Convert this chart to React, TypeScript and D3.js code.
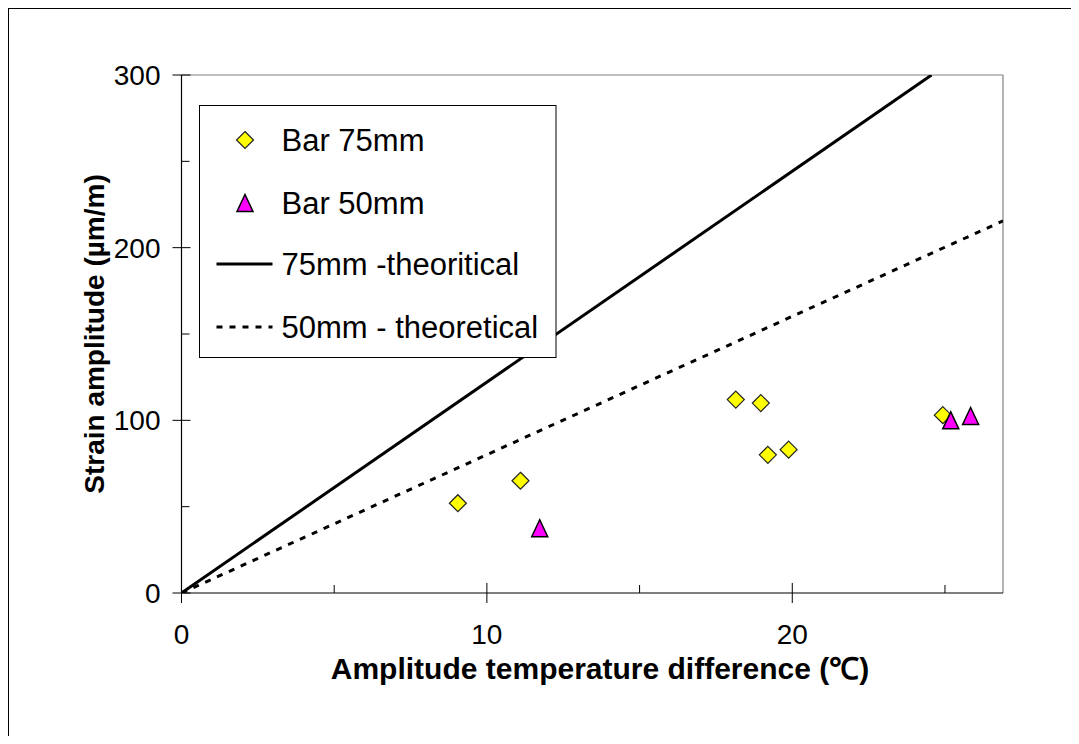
import React from 'react';
import * as d3 from 'd3';

// Bar 75mm measured points [temp diff, strain]
const bar75X = [9.05, 11.1, 18.15, 18.97, 19.2, 19.88, 24.93];
const bar75Y = [52, 65, 112, 110, 80, 83, 103];

// Bar 50mm measured points
const bar50X = [11.73, 25.19, 25.84];
const bar50Y = [37.5, 100, 102.5];

// theoretical lines (end points)
const theo75X = [0, 24.56];
const theo75Y = [0, 300];
const theo50X = [0, 26.9];
const theo50Y = [0, 215.5];

const xMajorTicks = [0, 10, 20];
const xMinorTicks = [5, 15, 25];
const yMajorTicks = [0, 100, 200, 300];
const yMinorTicks = [50, 150, 250];

const legendLabels = ['Bar 75mm', 'Bar 50mm', '75mm -theoritical', '50mm - theoretical'];

const W = 1063;
const H = 728;
const FONT = 'Liberation Sans, Arial, sans-serif';

const App = () => {
  // page coords minus 8px body margin
  const x = d3.scaleLinear().domain([0, 26.9]).range([173.5, 995]);
  const y = d3.scaleLinear().domain([0, 300]).range([585, 67]);

  const line = d3.line<[number, number]>()
    .x(d => x(d[0]))
    .y(d => y(d[1]));

  const line75 = line(theo75X.map((v, i) => [v, theo75Y[i]]));
  const line50 = line(theo50X.map((v, i) => [v, theo50Y[i]]));

  const diamond = (cx: number, cy: number) => {
    const r = 8.5;
    return `M${cx},${cy - r}L${cx + r},${cy}L${cx},${cy + r}L${cx - r},${cy}Z`;
  };
  const triangle = (cx: number, cy: number) =>
    `M${cx},${cy - 8.5}L${cx + 8},${cy + 8.5}L${cx - 8},${cy + 8.5}Z`;

  const [x0, x1] = x.range();
  const [y0, y1] = y.range();

  // legend layout
  const lgX = 191.5, lgY = 97.5, lgW = 356.5, lgH = 252;
  const rowY = [132, 195, 256, 319];
  const symX = 237;
  const textX = 273.5;

  return (
    <svg width={W} height={H} style={{ display: 'block', overflow: 'hidden' }}>
      <rect x={0} y={0} width={W + 20} height={H + 20} fill="#fff" stroke="#000" strokeWidth={2} />

      {/* plot frame */}
      <line x1={x0} y1={y1} x2={x1} y2={y1} stroke="#808080" strokeWidth={1.2} />
      <line x1={x1} y1={y1} x2={x1} y2={y0} stroke="#808080" strokeWidth={1.2} />

      <defs>
        <clipPath id="plotClip">
          <rect x={x0} y={y1} width={x1 - x0} height={y0 - y1} />
        </clipPath>
      </defs>

      {/* theoretical lines */}
      <g clipPath="url(#plotClip)">
        <path d={line75 || ''} fill="none" stroke="#000" strokeWidth={3} />
        <path d={line50 || ''} fill="none" stroke="#000" strokeWidth={3} strokeDasharray="6,7" />
      </g>

      {/* axes */}
      <line x1={x0} y1={y0} x2={x1} y2={y0} stroke="#000" strokeWidth={1.2} />
      <line x1={x0} y1={y0} x2={x0} y2={y1} stroke="#000" strokeWidth={1.2} />

      {yMajorTicks.map(t => (
        <g key={'ym' + t}>
          <line x1={x0 - 9} x2={x0 + 9} y1={y(t)} y2={y(t)} stroke="#000" strokeWidth={1} />
          <text x={x0 - 21} y={y(t) + 10} textAnchor="end" fontFamily={FONT} fontSize={28}>{t}</text>
        </g>
      ))}
      {yMinorTicks.map(t => (
        <line key={'yn' + t} x1={x0} x2={x0 + 8} y1={y(t)} y2={y(t)} stroke="#000" strokeWidth={1} />
      ))}
      {xMajorTicks.map(t => (
        <g key={'xm' + t}>
          <line x1={x(t)} x2={x(t)} y1={y0 - 10} y2={y0 + 10} stroke="#000" strokeWidth={1} />
          <text x={x(t)} y={y0 + 51} textAnchor="middle" fontFamily={FONT} fontSize={28}>{t}</text>
        </g>
      ))}
      {xMinorTicks.map(t => (
        <line key={'xn' + t} x1={x(t)} x2={x(t)} y1={y0 - 8} y2={y0} stroke="#000" strokeWidth={1} />
      ))}

      {/* axis titles */}
      <text x={592} y={y0 + 86} textAnchor="middle" fontFamily={FONT} fontSize={30} fontWeight="bold">
        Amplitude temperature difference (℃)
      </text>
      <text transform={`translate(96,${(y0 + y1) / 2}) rotate(-90)`} textAnchor="middle" fontFamily={FONT} fontSize={28} fontWeight="bold">
        Strain amplitude (µm/m)
      </text>

      {/* data points */}
      {bar75X.map((v, i) => (
        <path key={'d' + i} d={diamond(x(v), y(bar75Y[i]))} fill="#FFFF00" stroke="#222" strokeWidth={1.2} />
      ))}
      {bar50X.map((v, i) => (
        <path key={'t' + i} d={triangle(x(v), y(bar50Y[i]))} fill="#FF00FF" stroke="#000" strokeWidth={1.5} />
      ))}

      {/* legend */}
      <rect x={lgX} y={lgY} width={lgW} height={lgH} fill="#fff" stroke="#000" strokeWidth={1} />
      <path d={diamond(symX, rowY[0])} fill="#FFFF00" stroke="#222" strokeWidth={1.2} />
      <path d={triangle(symX, rowY[1])} fill="#FF00FF" stroke="#000" strokeWidth={1.5} />
      <line x1={208.5} x2={264.5} y1={rowY[2]} y2={rowY[2]} stroke="#000" strokeWidth={3} />
      <line x1={208.5} x2={264.5} y1={rowY[3]} y2={rowY[3]} stroke="#000" strokeWidth={3} strokeDasharray="6,7" />
      {legendLabels.map((l, i) => (
        <text key={l} x={textX} y={rowY[i] + 11} fontFamily={FONT} fontSize={31}>{l}</text>
      ))}
    </svg>
  );
};

export default App;
